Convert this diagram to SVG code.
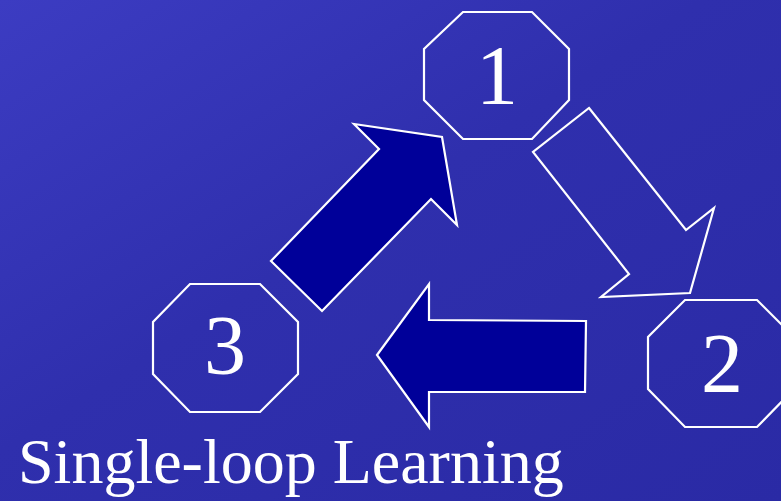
<svg xmlns="http://www.w3.org/2000/svg" width="781" height="501" viewBox="0 0 781 501">
<defs>
<linearGradient id="bg" x1="0" y1="0" x2="1" y2="1">
<stop offset="0" stop-color="#3c3cc2"/>
<stop offset="0.45" stop-color="#2f2fad"/>
<stop offset="1" stop-color="#2a2aa5"/>
</linearGradient>
</defs>
<style>
.oct{fill:none;stroke:#ffffff;stroke-width:2.2}
.arr{fill:#000099;stroke:#ffffff;stroke-width:2.2;stroke-linejoin:miter}
.arro{fill:none;stroke:#ffffff;stroke-width:2.2}
.num{font-family:"Liberation Serif","Times New Roman",serif;font-size:84px;fill:#ffffff;text-anchor:middle}
.title{font-family:"Liberation Serif","Times New Roman",serif;font-size:64px;fill:#ffffff}
</style>
<rect width="781" height="501" fill="url(#bg)"/>
<g id="node1">
<polygon class="oct" points="463,12 532,12 569,49 569,100 532,139 463,139 424,100 424,49"/>
<text class="num" x="497" y="104">1</text>
</g>
<g id="node2">
<polygon class="oct" points="685,300 757,300 794,337 794,389 757,427 685,427 648,389 648,337"/>
<text class="num" x="722" y="392">2</text>
</g>
<g id="node3">
<polygon class="oct" points="190,284 260,284 298,322 298,374 260,412 190,412 153,374 153,322"/>
<text class="num" x="225" y="374">3</text>
</g>
<g id="connectors">
<polygon class="arro" points="589,108 686,230 714,208 690,293 601,297 629,274 533,152"/>
<polygon class="arr" points="377,355 429,284 429,320 586,321 585,392 429,392 429,427"/>
<polygon class="arr" points="442,137 457,225 431,199 322,311 271,261 379,149 354,124"/>
</g>
<text class="title" x="18" y="483">Single-loop Learning</text>
</svg>
